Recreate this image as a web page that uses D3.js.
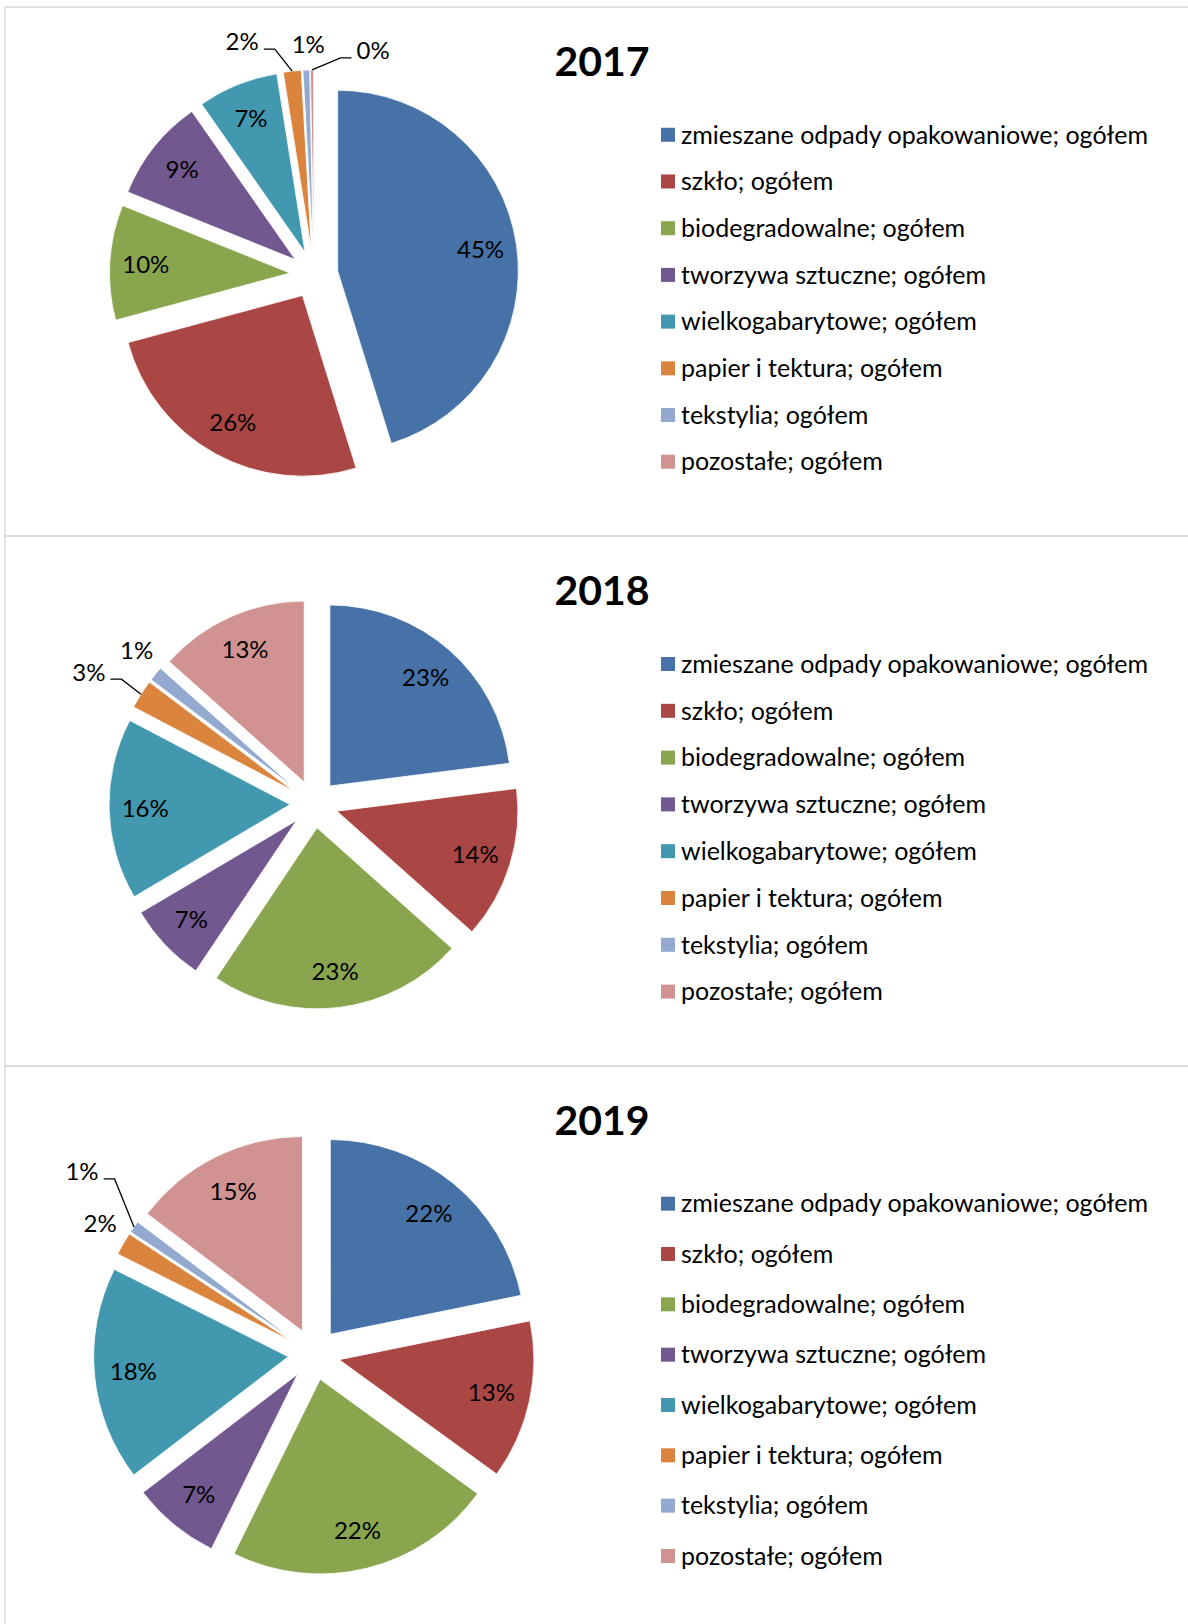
<!DOCTYPE html>
<html>
<head>
<meta charset="utf-8">
<script src="https://cdn.jsdelivr.net/npm/d3@7"></script>
<style>
  body { margin: 0; background: #fff; }
  svg { display: block; font-family: Lato, "Open Sans", sans-serif; }
</style>
</head>
<body>
<svg id="chart"></svg>
<script>
const years = ["2017", "2018", "2019"];
const categories = [
  "zmieszane odpady opakowaniowe; ogółem",
  "szkło; ogółem",
  "biodegradowalne; ogółem",
  "tworzywa sztuczne; ogółem",
  "wielkogabarytowe; ogółem",
  "papier i tektura; ogółem",
  "tekstylia; ogółem",
  "pozostałe; ogółem"
];
const values2017 = [45.2, 25.6, 10.3, 9.2, 7.2, 1.6, 0.6, 0.3];
const values2018 = [23.0, 13.6, 22.8, 7.1, 16.2, 2.6, 1.3, 13.4];
const values2019 = [21.8, 13.2, 22.3, 7.3, 17.8, 1.9, 1.0, 14.7];
const colors = ["#4672a8", "#aa4744", "#89a54e", "#71588f", "#4198af", "#db843d", "#93a9cf", "#d19392"];

// layout of the three stacked chart boxes
const panels = [
  { year: years[0], values: values2017, top: 7, height: 529 },
  { year: years[1], values: values2018, top: 536, height: 530 },
  { year: years[2], values: values2019, top: 1066, height: 570 }
];
// thin slices get their label outside, some with a leader line
const outside = {
  "2017": [{ i: 5, dx: -50, dy: -29, leader: true }, { i: 6, dx: 2, dy: -25 }, { i: 7, dx: 61, dy: -19, leader: true }],
  "2018": [{ i: 5, dx: -52, dy: -22, leader: true }, { i: 6, dx: -19, dy: -23 }],
  "2019": [{ i: 5, dx: -23, dy: -20 }, { i: 6, dx: -52, dy: -55, leader: true }]
};

const svg = d3.select("#chart").attr("width", 1188).attr("height", 1624);
const pie = d3.pie().sort(null).value(d => d);
const pct = v => Math.round(v) + "%";

panels.forEach(p => {
  const s = p.height / 530;
  const cx = 314, cy = p.top + 268 * s;
  const r = 181 * s, explode = 24 * s;

  svg.append("rect")
    .attr("x", 5).attr("y", p.top)
    .attr("width", 1200).attr("height", p.height)
    .attr("fill", "none")
    .attr("stroke", "#d9d9d9")
    .attr("stroke-width", 1.5);

  svg.append("text")
    .attr("x", 602).attr("y", p.top + 69)
    .attr("text-anchor", "middle")
    .attr("font-size", 41)
    .attr("font-weight", "bold")
    .text(p.year);

  const arcs = pie(p.values);
  const arc = d3.arc().innerRadius(0).outerRadius(r);
  const mid = d => (d.startAngle + d.endAngle) / 2;
  const shift = (d, k) => [cx + k * Math.sin(mid(d)), cy - k * Math.cos(mid(d))];

  const g = svg.append("g");
  g.selectAll("path")
    .data(arcs)
    .join("path")
    .attr("transform", d => `translate(${shift(d, explode)})`)
    .attr("d", arc)
    .attr("fill", (d, i) => colors[i])
    .attr("stroke", "#fff")
    .attr("stroke-width", 0.8);

  const out = outside[p.year];
  const outIdx = out.map(o => o.i);

  g.selectAll("text.inside")
    .data(arcs.filter(d => !outIdx.includes(d.index)))
    .join("text")
    .attr("class", "inside")
    .attr("x", d => shift(d, explode + 0.8 * r)[0])
    .attr("y", d => shift(d, explode + 0.8 * r)[1])
    .attr("dy", "0.35em")
    .attr("text-anchor", "middle")
    .attr("font-size", 24)
    .text(d => pct(d.data));

  out.forEach(o => {
    const d = arcs[o.i];
    const [ox, oy] = shift(d, explode + r);
    const lx = ox + o.dx, ly = oy + o.dy;
    const t = g.append("text")
      .attr("x", lx).attr("y", ly)
      .attr("dy", "0.35em")
      .attr("text-anchor", "middle")
      .attr("font-size", 24)
      .text(pct(d.data));
    if (o.leader) {
      const half = t.node().getBBox().width / 2;
      const side = o.dx < 0 ? 1 : -1;
      const ex = lx + side * (half + 5);
      g.append("polyline")
        .attr("points", [[ox, oy], [ex + side * 11, ly + 7], [ex, ly + 7]].join(" "))
        .attr("fill", "none")
        .attr("stroke", "#000")
        .attr("stroke-width", 1.3);
    }
  });

  const legend = svg.append("g").selectAll("g")
    .data(categories)
    .join("g")
    .attr("transform", (d, i) => `translate(661,${p.top + (128 + i * 46.8) * s})`);
  legend.append("rect")
    .attr("y", -7).attr("width", 14).attr("height", 14)
    .attr("fill", (d, i) => colors[i]);
  legend.append("text")
    .attr("x", 20).attr("dy", "0.35em")
    .attr("font-size", 25)
    .text(d => d);
});
</script>
</body>
</html>
